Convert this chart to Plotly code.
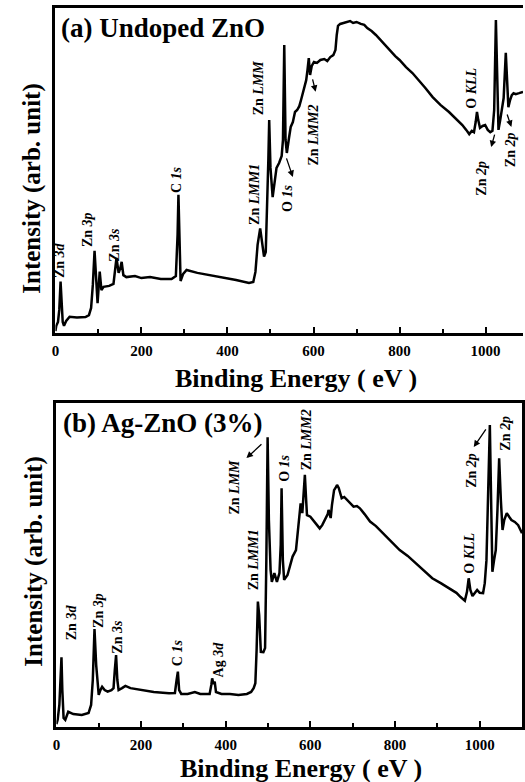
import plotly.graph_objects as go

W, H = 525, 782

# ---------------- data ----------------
# (a) Undoped ZnO : binding energy (eV) and intensity (arb. units, 0-100)
be_a = [0, 2, 6, 9, 12, 14, 17, 20, 25, 33, 50, 70, 78, 83, 87, 91, 94, 98, 103, 107,
        112, 125, 135, 142, 147, 151, 154, 158, 165, 185, 200, 220, 245, 270, 280, 284, 286, 288, 291, 297,
        305, 330, 360, 390, 420, 450, 460, 465, 470, 476, 480, 485, 489, 492, 495, 497, 500, 505, 509, 514,
        520, 526, 529, 532, 535, 538, 543, 547, 552, 557, 562, 567, 571, 578, 583, 586, 589, 592, 596, 601,
        608, 616, 625, 632, 639, 646, 651, 654, 657, 662, 670, 678, 685, 692, 700, 710, 718, 725, 735, 745,
        755, 762, 775, 790, 800, 815, 830, 845, 860, 877, 895, 915, 930, 946, 955, 962, 968, 973, 977, 980,
        983, 987, 993, 999, 1005, 1011, 1016, 1020, 1024, 1027, 1030, 1034, 1037, 1042, 1047, 1050, 1053, 1057, 1061, 1065,
        1070, 1078, 1087]
int_a = [0.6, 2.2, 3.4, 7.1, 15.8, 8.6, 3.4, 2.2, 3.7, 5.0, 4.8, 4.9, 5.5, 7.7, 14.8, 25.3, 16.3, 9.2, 18.9, 13.2,
         14.2, 14.5, 15.1, 23.1, 18.5, 20.0, 21.9, 17.8, 17.2, 17.5, 16.9, 17.2, 16.6, 16.6, 17.5, 30.2, 42.5, 27.1, 16.0, 18.2,
         19.4, 18.5, 17.8, 16.9, 16.3, 15.4, 15.7, 18.8, 27.1, 32.2, 27.4, 23.5, 24.9, 36.3, 53.2, 65.5, 50.8, 41.8, 46.5, 50.8,
         52.3, 54.5, 59.4, 88.6, 59.4, 55.4, 60.0, 63.4, 64.9, 68.0, 68.6, 69.8, 71.7, 75.7, 77.8, 80.9, 84.6, 79.4, 82.2, 83.4,
         83.1, 84.0, 84.3, 83.7, 84.9, 85.5, 87.1, 91.7, 94.5, 95.1, 95.4, 95.7, 96.0, 95.4, 95.7, 95.1, 94.8, 93.8, 92.9, 91.7,
         90.2, 89.2, 87.4, 85.2, 84.0, 81.8, 80.0, 77.8, 75.4, 72.6, 70.2, 68.0, 66.2, 64.0, 62.5, 61.2, 62.2, 61.8, 64.9, 68.0,
         65.5, 63.1, 63.7, 64.0, 62.5, 61.8, 62.2, 68.6, 96.3, 74.8, 62.5, 65.5, 68.6, 72.3, 86.2, 76.3, 69.5, 71.7, 73.2, 73.8,
         73.5, 73.8, 74.2]

# (b) Ag-ZnO (3%)
be_b = [0, 3, 7, 10, 12, 14, 17, 21, 28, 40, 60, 76, 82, 86, 90, 94, 100, 104, 108, 114,
        121, 130, 135, 138, 141, 144, 147, 155, 163, 175, 200, 230, 266, 280, 284, 287, 290, 295, 310, 327,
        340, 362, 366, 368, 371, 374, 377, 390, 410, 430, 450, 460, 466, 470, 473, 476, 479, 483, 489, 493,
        496, 499, 502, 506, 509, 515, 521, 527, 530, 532, 535, 538, 546, 552, 558, 566, 571, 573, 577, 581,
        584, 587, 590, 592, 600, 606, 612, 622, 628, 635, 641, 643, 648, 651, 656, 659, 663, 667, 674, 680,
        686, 694, 702, 710, 717, 728, 741, 755, 772, 790, 811, 830, 850, 870, 888, 908, 927, 945, 955, 965,
        970, 974, 978, 983, 994, 1000, 1008, 1012, 1016, 1020, 1024, 1027, 1030, 1034, 1038, 1042, 1046, 1050, 1054, 1058,
        1064, 1070, 1075, 1083, 1091, 1100]
int_b = [0.9, 2.2, 6.8, 14.5, 21.5, 11.4, 2.8, 2.2, 4.7, 4.0, 3.7, 4.3, 6.8, 14.5, 30.2, 19.1, 9.9, 11.4, 12.4, 11.4,
         10.9, 11.4, 12.0, 17.6, 22.2, 14.5, 11.4, 12.0, 12.7, 12.0, 11.4, 10.8, 10.4, 10.5, 14.5, 17.1, 11.4, 10.2, 10.2, 10.8,
         10.2, 10.2, 13.0, 15.0, 13.3, 14.0, 10.8, 10.2, 10.2, 9.9, 10.2, 10.8, 12.0, 13.5, 23.8, 38.7, 34.6, 23.2, 23.1, 24.4,
         51.5, 89.4, 63.9, 48.5, 44.8, 47.5, 44.8, 47.5, 56.2, 73.7, 51.5, 45.4, 46.9, 50.0, 52.6, 54.6, 60.8, 62.9, 69.0, 66.0,
         71.6, 77.8, 70.1, 65.4, 64.9, 63.9, 62.9, 61.3, 62.3, 64.4, 65.7, 67.0, 64.5, 68.5, 73.1, 73.7, 74.7, 73.8, 70.6, 71.0,
         70.1, 69.1, 68.0, 68.2, 67.5, 65.7, 63.4, 62.0, 59.8, 57.4, 54.6, 52.8, 50.5, 48.1, 45.9, 44.4, 42.8, 41.4, 40.1, 39.0,
         41.7, 45.9, 42.3, 40.4, 42.3, 41.4, 41.3, 44.4, 51.5, 76.2, 93.2, 70.1, 47.9, 51.5, 54.6, 67.0, 82.9, 70.1, 60.8, 63.9,
         66.0, 64.8, 63.9, 63.3, 62.3, 59.8]

tick_vals = [0, 200, 400, 600, 800, 1000]
tick_text = ["0", "200", "400", "600", "800", "1000"]

# peak labels: (text, eV, intensity)
labels_a = [("Zn <i>3d</i>", 11, 22.5), ("Zn <i>3p</i>", 76, 31.7), ("Zn <i>3s</i>", 138, 27.1),
            ("C <i>1s</i>", 283, 47.1), ("Zn <i>LMM1</i>", 464, 42.5), ("Zn <i>LMM</i>", 474, 75.4),
            ("O <i>1s</i>", 538, 41.5), ("Zn <i>LMM2</i>", 600, 60.9), ("O <i>KLL</i>", 968, 75.4),
            ("Zn <i>2p</i>", 991, 47.7), ("Zn <i>2p</i>", 1057, 56.3)]
arrows_a = [(552, 48.0, 536, 54.2), (605, 74.2, 597, 78.5), (1013, 57.2, 1022, 61.5), (1060, 63.4, 1049, 67.7)]

labels_b = [("Zn <i>3d</i>", 35, 32.4), ("Zn <i>3p</i>", 98, 36.1), ("Zn <i>3s</i>", 145, 27.8),
            ("C <i>1s</i>", 285, 22.8), ("Ag <i>3d</i>", 383, 20.7), ("Zn <i>LMM1</i>", 465, 51.5),
            ("Zn <i>LMM</i>", 421, 74.1), ("O <i>1s</i>", 537, 79.9), ("Zn <i>LMM2</i>", 593, 88.6),
            ("O <i>KLL</i>", 974, 53.7), ("Zn <i>2p</i>", 979, 79.3), ("Zn <i>2p</i>", 1061, 90.7)]
arrows_b = [(449, 83.0, 488, 87.7), (986, 86.4, 1017, 92.3)]

FONT = "Times New Roman, Liberation Serif, serif"

def px(x):
    return x / W

def py(y):
    return 1 - y / H

fig = go.Figure()
fig.add_trace(go.Scatter(x=be_a, y=int_a, mode="lines", line=dict(color="black", width=2.5),
                         xaxis="x", yaxis="y", showlegend=False))
fig.add_trace(go.Scatter(x=be_b, y=int_b, mode="lines", line=dict(color="black", width=2.5),
                         xaxis="x2", yaxis="y2", showlegend=False))

def xax(domain, rng, anchor, mirror):
    return dict(domain=domain, range=rng, anchor=anchor, showline=True, linewidth=3, linecolor="black",
                mirror=mirror, showgrid=False, zeroline=False, ticks="inside", ticklen=6, tickwidth=2,
                tickcolor="black", tickvals=tick_vals, ticktext=["<b>%s</b>" % t for t in tick_text],
                minor=dict(dtick=100, tick0=0, ticks="inside", ticklen=4, tickwidth=2, tickcolor="black"),
                tickfont=dict(family=FONT, size=15, color="black"), ticklabelstandoff=2)

def yax(domain, anchor, mirror):
    return dict(domain=domain, range=[0, 100], anchor=anchor, showline=True, linewidth=3, linecolor="black",
                mirror=mirror, showgrid=False, zeroline=False, ticks="", showticklabels=False)

lab_font = dict(family=FONT, size=14, color="black")
annotations = []
for t, x, y in labels_a:
    annotations.append(dict(text="<b>%s</b>" % t, x=x, y=y, xref="x", yref="y", showarrow=False, textangle=-90,
                            xanchor="center", yanchor="middle", font=lab_font))
for hx, hy, tx, ty in arrows_a:
    annotations.append(dict(text="", x=hx, y=hy, ax=tx, ay=ty, xref="x", yref="y", axref="x", ayref="y",
                            showarrow=True, arrowhead=2, arrowsize=1, arrowwidth=1.3, arrowcolor="black"))
for t, x, y in labels_b:
    annotations.append(dict(text="<b>%s</b>" % t, x=x, y=y, xref="x2", yref="y2", showarrow=False, textangle=-90,
                            xanchor="center", yanchor="middle", font=lab_font))
for hx, hy, tx, ty in arrows_b:
    annotations.append(dict(text="", x=hx, y=hy, ax=tx, ay=ty, xref="x2", yref="y2", axref="x2", ayref="y2",
                            showarrow=True, arrowhead=2, arrowsize=1, arrowwidth=1.3, arrowcolor="black"))

title_font = dict(family=FONT, size=27, color="black")
ytitle_font = dict(family=FONT, size=25, color="black")
axis_font = dict(family=FONT, size=26, color="black")
annotations += [
    dict(text="<b>(a) Undoped ZnO</b>", x=px(56), y=py(28), xref="paper", yref="paper", xanchor="left",
         yanchor="middle", showarrow=False, font=title_font),
    dict(text="<b>(b) Ag-ZnO (3%)</b>", x=px(58), y=py(423), xref="paper", yref="paper", xanchor="left",
         yanchor="middle", showarrow=False, font=title_font),
    dict(text="<b>Binding Energy ( eV )</b>", x=px(295), y=py(378), xref="paper", yref="paper",
         xanchor="center", yanchor="middle", showarrow=False, font=axis_font),
    dict(text="<b>Binding Energy ( eV )</b>", x=px(300), y=py(768), xref="paper", yref="paper",
         xanchor="center", yanchor="middle", showarrow=False, font=axis_font),
    dict(text="<b>Intensity (arb. unit)</b>", x=px(28), y=py(189), xref="paper", yref="paper", textangle=-90,
         xanchor="center", yanchor="middle", showarrow=False, font=ytitle_font),
    dict(text="<b>Intensity (arb. unit)</b>", x=px(30), y=py(562), xref="paper", yref="paper", textangle=-90,
         xanchor="center", yanchor="middle", showarrow=False, font=ytitle_font),
]

fig.update_layout(
    width=W, height=H, margin=dict(l=0, r=0, t=0, b=0),
    paper_bgcolor="white", plot_bgcolor="white",
    xaxis=xax([px(52), 1.0], [0, 1087], "y", True),
    yaxis=yax([py(333), py(8)], "x", False),
    xaxis2=xax([px(53), px(524)], [0, 1100], "y2", True),
    yaxis2=yax([py(727), py(403)], "x2", True),
    annotations=annotations,
)

fig.write_html("out.html")
